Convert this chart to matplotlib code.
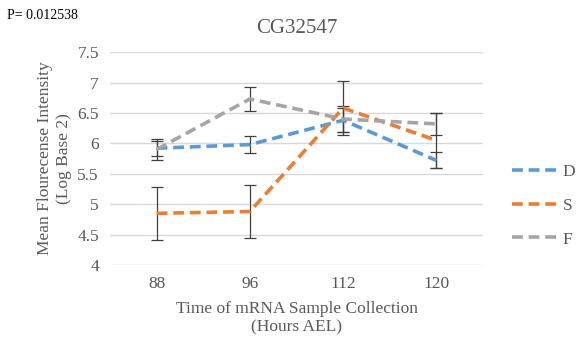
import numpy as np
import matplotlib.pyplot as plt
from matplotlib.lines import Line2D

plt.rcParams['font.family'] = ['Liberation Serif', 'DejaVu Serif']

hours = ["88", "96", "112", "120"]
series_names = ["D", "S", "F"]
d_vals = [5.92, 5.98, 6.38, 5.72]
s_vals = [4.85, 4.88, 6.58, 6.05]
f_vals = [5.90, 6.73, 6.40, 6.32]
d_err = [0.12, 0.14, 0.20, 0.13]
s_err = [0.43, 0.44, 0.45, 0.45]
f_err = [0.17, 0.19, 0.22, 0.18]
colors = ["#5B9BD5", "#ED7D31", "#A5A5A5"]

fig = plt.figure(figsize=(5.82, 3.52), dpi=100)
ax = fig.add_axes([0.189, 0.247, 0.641, 0.605])

x = np.arange(len(hours))
dash = (0, (3, 1.6))
for name, vals, err, c in zip(series_names, [d_vals, s_vals, f_vals],
                              [d_err, s_err, f_err], colors):
    ax.errorbar(x, vals, yerr=err, color=c, ls=dash, lw=2.6,
                ecolor="#404040", elinewidth=0.9, capsize=4, capthick=0.9)

ax.set_xlim(-0.5, 3.5)
ax.set_ylim(4, 7.5)
ax.set_yticks(np.arange(4, 7.51, 0.5))
ax.set_yticklabels(["4", "4.5", "5", "5.5", "6", "6.5", "7", "7.5"])
ax.set_xticks(x)
ax.set_xticklabels(hours)
ax.grid(axis="y", color="#D9D9D9", lw=1)
ax.set_axisbelow(True)
for s in ax.spines.values():
    s.set_visible(False)
ax.tick_params(length=0, labelsize=12.5, colors="#595959", pad=8)

ax.set_title("CG32547", fontsize=15, color="#595959", pad=14)
ax.set_ylabel("Mean Flourecense Intensity\n(Log Base 2)", fontsize=12.5, color="#595959")
ax.set_xlabel("Time of mRNA Sample Collection\n(Hours AEL)", fontsize=12.5, color="#595959",
              labelpad=6)
fig.text(0.012, 0.945, "P= 0.012538", fontsize=10, color="black")

handles = [Line2D([], [], color=c, ls=dash, lw=2.6) for c in colors]
fig.legend(handles, series_names, loc="center left", bbox_to_anchor=(0.88, 0.415),
           frameon=False, fontsize=12.5, handlelength=2.7, labelspacing=1.0,
           handletextpad=0.2, borderaxespad=0, borderpad=0, labelcolor="#595959")

fig.savefig("out.png", dpi=100)
